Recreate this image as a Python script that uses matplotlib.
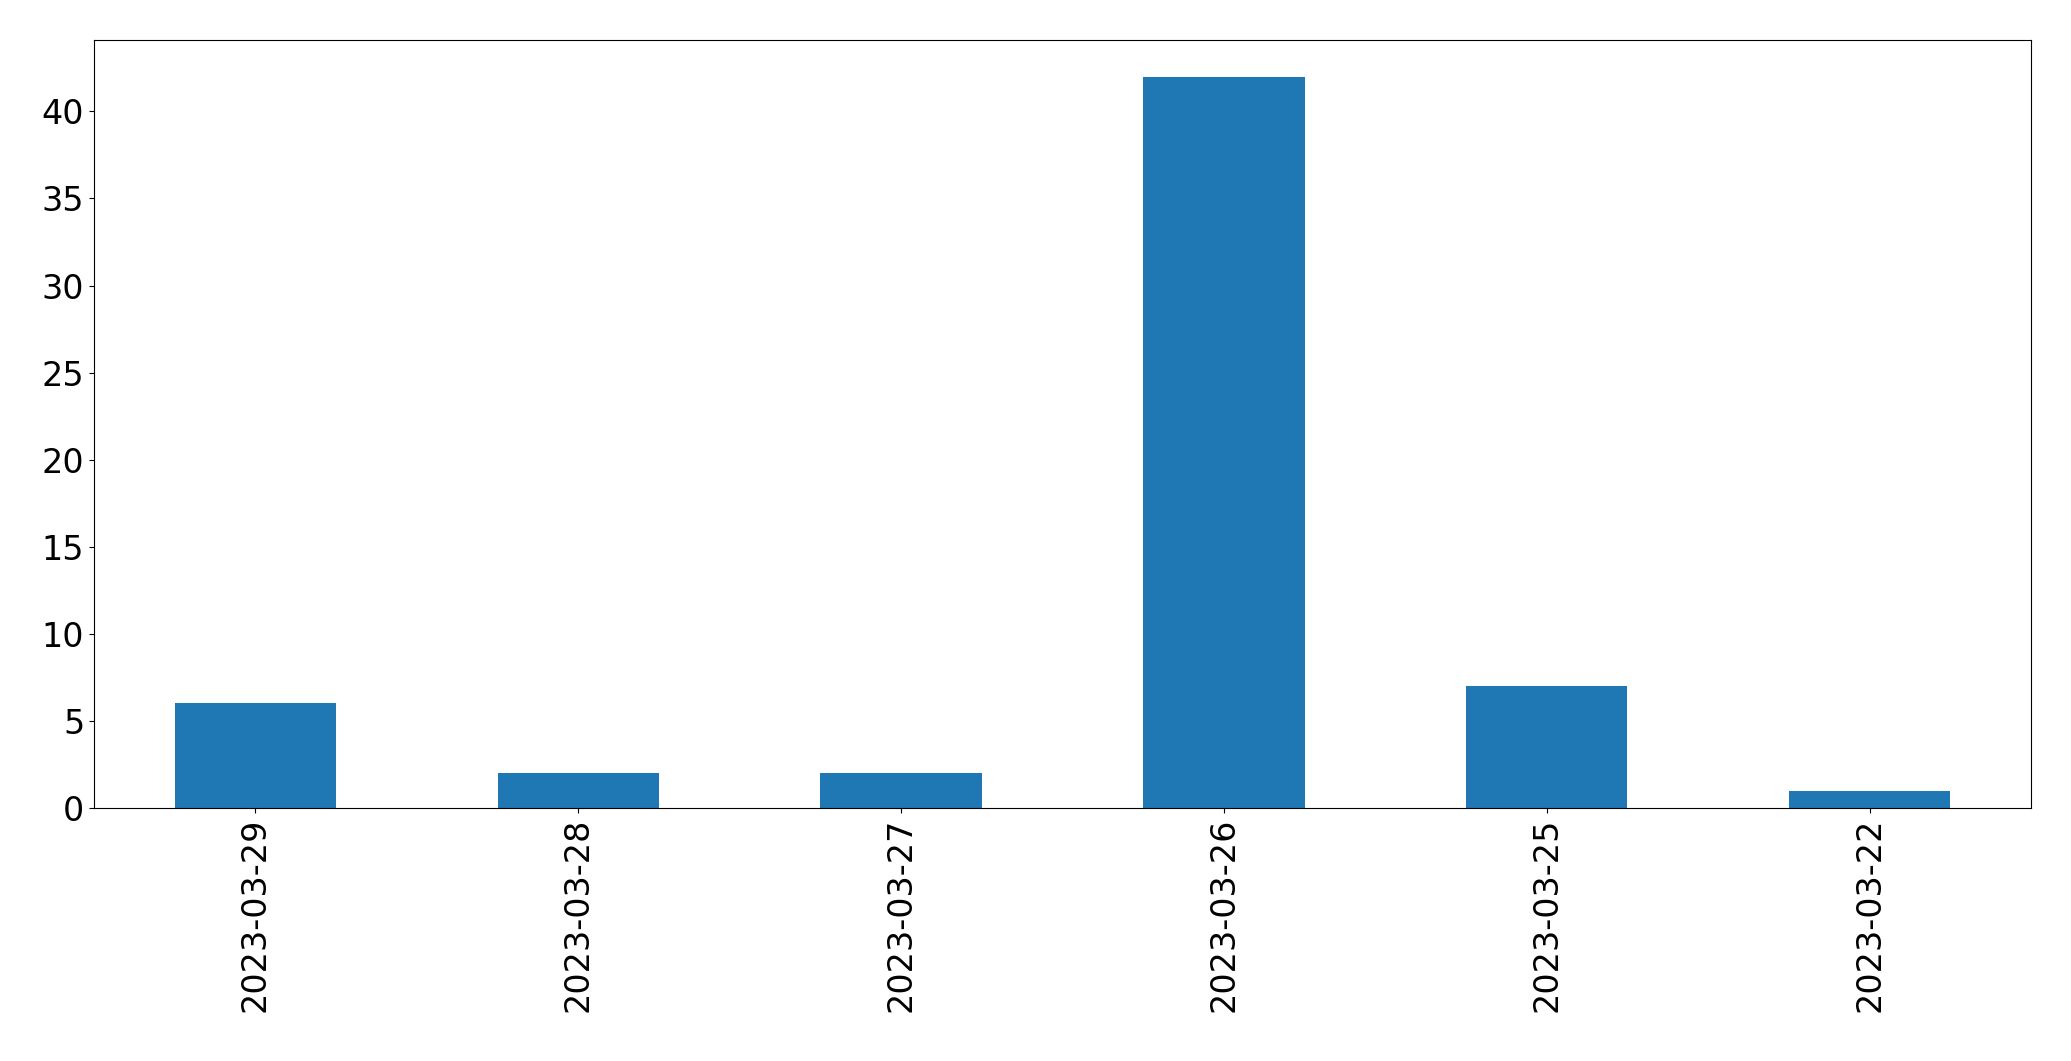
import matplotlib
matplotlib.use("Agg")
from matplotlib import pyplot as plt
import numpy as np

dates = ['2023-03-29', '2023-03-28', '2023-03-27', '2023-03-26', '2023-03-25', '2023-03-22']
counts = [6, 2, 2, 42, 7, 1]

fig, ax = plt.subplots(figsize=(20.71, 10.61), dpi=100)
fig.subplots_adjust(left=0.0454, right=0.9807, top=0.9623, bottom=0.2385)

x = np.arange(len(dates))
ax.bar(x, counts, width=0.5, color='#1f77b4')
ax.set_xlim(-0.5, len(dates) - 0.5)
ax.set_ylim(0, max(counts) * 1.05)
ax.set_xticks(x)
ax.set_xticklabels(dates, rotation=90)
ax.tick_params(labelsize=24)

plt.savefig('out.png', dpi=100)
